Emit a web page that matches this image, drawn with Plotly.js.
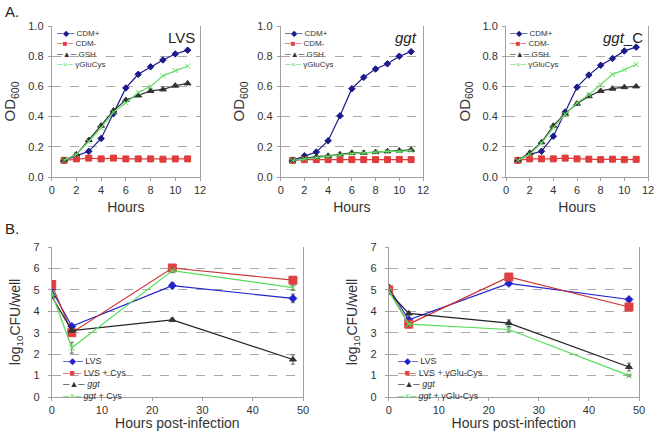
<!DOCTYPE html>
<html><head><meta charset="utf-8">
<script src="https://cdn.plot.ly/plotly-3.0.1.min.js"></script>
<style>html,body{margin:0;padding:0;background:#fff}</style>
</head><body><div id="plot" style="width:656px;height:431px"></div>
<script>
// ---- Data: panel A (growth curves) ----
const hours = [1,2,3,4,5,6,7,8,9,10,11];
const growthNames = ['CDM+','CDM-','GSH','γGluCys'];
const lvsCDMplus  = [0.11,0.14,0.17,0.255,0.42,0.59,0.68,0.73,0.775,0.815,0.84];
const lvsCDMminus = [0.11,0.12,0.125,0.12,0.125,0.12,0.12,0.12,0.118,0.12,0.12];
const lvsGSH      = [0.11,0.15,0.245,0.34,0.44,0.51,0.54,0.57,0.58,0.605,0.62];
const lvsGluCys   = [0.11,0.15,0.235,0.325,0.43,0.49,0.56,0.60,0.67,0.705,0.735];
const ggtCDMplus  = [0.11,0.14,0.165,0.24,0.405,0.585,0.66,0.715,0.75,0.80,0.83];
const ggtCDMminus = [0.11,0.115,0.115,0.115,0.115,0.115,0.115,0.115,0.115,0.117,0.115];
const ggtGSH      = [0.11,0.125,0.135,0.14,0.15,0.16,0.16,0.165,0.17,0.175,0.18];
const ggtGluCys   = [0.11,0.12,0.13,0.135,0.145,0.155,0.16,0.165,0.17,0.17,0.175];
const ggtCCDMplus  = [0.11,0.15,0.17,0.27,0.43,0.595,0.675,0.74,0.785,0.835,0.86];
const ggtCCDMminus = [0.11,0.12,0.12,0.12,0.125,0.12,0.118,0.115,0.118,0.115,0.117];
const ggtCGSH      = [0.11,0.16,0.23,0.34,0.42,0.485,0.535,0.57,0.585,0.595,0.60];
const ggtCGluCys   = [0.11,0.15,0.225,0.325,0.415,0.49,0.545,0.61,0.68,0.71,0.745];

// ---- Data: panel B (infection) ----
const hpi = [0,4,24,48];
const cysNames = ['LVS','LVS + Cys','<i>ggt</i>','<i>ggt</i> + Cys'];
const cysLVS     = [5.0,3.3,5.2,4.6];
const cysLVSerr  = [0.1,0.1,0.15,0.2];
const cysLVSCys  = [5.25,3.0,6.02,5.45];
const cysLVSCysErr = [0.12,0.1,0.08,0.12];
const cysGgt     = [4.7,3.1,3.6,1.75];
const cysGgtErr  = [0.1,0.08,0.08,0.22];
const cysGgtCys  = [4.85,2.3,5.9,5.1];
const cysGgtCysErr = [0.1,0.25,0.1,0.12];

const gcNames = ['LVS','LVS + γGlu-Cys','<i>ggt</i>','<i>ggt</i> + γGlu-Cys'];
const gcLVS     = [5.1,3.6,5.3,4.55];
const gcLVSerr  = [0.12,0.1,0.08,0.08];
const gcLVSGC   = [5.0,3.4,5.6,4.2];
const gcLVSGCerr = [0.1,0.1,0.1,0.12];
const gcGgt     = [4.9,3.9,3.45,1.4];
const gcGgtErr  = [0.1,0.08,0.15,0.18];
const gcGgtGC   = [4.95,3.4,3.15,1.0];
const gcGgtGCerr = [0.1,0.08,0.12,0.05];

// ---- Styles ----
const topColors = ['#1a1a8a','#e03c3c','#333333','#66dd66'];
const topSymbols = ['diamond','square','triangle-up','x-thin-open'];
const topSizes = [5,6,6,5];
const botLine = ['#2222cc','#cc3333','#222222','#55dd55'];
const botMark = ['#2222cc','#e04040','#333333','#66dd66'];
const botSizes = [6,8,6,6];
const glyphs = ['◆','■','▲','×'];

const traces = [];
function addGrowth(series, xa, ya){
  series.forEach((y,i)=>{
    traces.push({x:hours, y:y, xaxis:xa, yaxis:ya, name:growthNames[i],
      type:'scatter', mode:'lines+markers', showlegend:false,
      line:{color:topColors[i], width:1.2},
      marker:{symbol:topSymbols[i], size:topSizes[i], color:topColors[i], line:{color:topColors[i], width:1}}});
  });
}
addGrowth([lvsCDMplus,lvsCDMminus,lvsGSH,lvsGluCys],'x','y');
addGrowth([ggtCDMplus,ggtCDMminus,ggtGSH,ggtGluCys],'x2','y2');
addGrowth([ggtCCDMplus,ggtCCDMminus,ggtCGSH,ggtCGluCys],'x3','y3');

function addInf(series, errs, names, xa, ya){
  series.forEach((y,i)=>{
    traces.push({x:hpi, y:y, xaxis:xa, yaxis:ya, name:names[i],
      type:'scatter', mode:'lines+markers', showlegend:false,
      line:{color:botLine[i], width:1.2},
      marker:{symbol:topSymbols[i], size:botSizes[i], color:botMark[i], line:{color:botMark[i], width:1}},
      error_y:{type:'data', array:errs[i], color:'#666', thickness:1, width:2}});
  });
}
addInf([cysLVS,cysLVSCys,cysGgt,cysGgtCys],[cysLVSerr,cysLVSCysErr,cysGgtErr,cysGgtCysErr],cysNames,'x4','y4');
addInf([gcLVS,gcLVSGC,gcGgt,gcGgtGC],[gcLVSerr,gcLVSGCerr,gcGgtErr,gcGgtGCerr],gcNames,'x5','y5');

const W=656, H=431;
const fx = p=>p/W, fy = p=>1-p/H;
const font = 'Liberation Sans, Arial, sans-serif';

function xax(d0,d1,range,dtick,title,ya){
  return {domain:[fx(d0),fx(d1)], range:range, dtick:dtick, tick0:0, anchor:ya,
    showline:true, linecolor:'#a0a0a0', linewidth:1, mirror:false, showgrid:false, zeroline:false,
    ticks:'outside', ticklen:3, tickcolor:'#a0a0a0',
    tickfont:{size:11,color:'#333',family:font},
    title:{text:title, font:{size:14,color:'#333',family:font}, standoff:6}};
}
function yax(d0,d1,range,dtick,fmt,title,xa,size,standoff,tls){
  return {domain:[fy(d1),fy(d0)], range:range, dtick:dtick, tick0:0, anchor:xa, tickformat:fmt,
    showline:true, linecolor:'#a0a0a0', linewidth:1, mirror:true, zeroline:false,
    showgrid:true, gridcolor:'#a8a8a8', griddash:'dash', gridwidth:1,
    ticks:'outside', ticklen:3, tickcolor:'#a0a0a0', ticklabelstandoff:tls,
    tickfont:{size:11,color:'#333',family:font},
    title:{text:title, font:{size:size,color:'#333',family:font}, standoff:standoff}};
}

const annotations = [
  {text:'A.', x:fx(3), y:fy(12), xanchor:'left'},
  {text:'B.', x:fx(3), y:fy(228), xanchor:'left'},
  {text:'LVS', x:fx(197), y:fy(37), xanchor:'right'},
  {text:'<i>ggt</i>', x:fx(419), y:fy(37), xanchor:'right'},
  {text:'<i>ggt</i>_C', x:fx(645), y:fy(37), xanchor:'right'}
].map(a=>Object.assign({xref:'paper', yref:'paper', yanchor:'middle', showarrow:false,
  font:{size:15,color:'#222',family:font}}, a));

// Compact legends built as one multi-line text annotation each
function addLegend(names, colors, x0, yTop, size){
  const lines = names.map((n,i)=>'<span style="color:'+colors[i]+'">─'+glyphs[i]+'─</span> '+n);
  annotations.push({xref:'paper', yref:'paper', x:fx(x0), y:fy(yTop), xanchor:'left', yanchor:'top',
    align:'left', showarrow:false, borderpad:0, font:{size:size, color:'#333', family:font},
    text:lines.join('<br>')});
}
addLegend(growthNames, topColors, 55, 28, 8);
addLegend(growthNames, topColors, 283, 28, 8);
addLegend(growthNames, topColors, 508, 28, 8);
addLegend(cysNames, botMark, 61, 355, 9);
addLegend(gcNames, botMark, 396, 355, 9);

const layout = {
  width:W, height:H, margin:{l:0,r:0,t:0,b:0}, paper_bgcolor:'#fff', plot_bgcolor:'#fff',
  showlegend:false,
  xaxis: xax(51.7,200,[0,12],2,'Hours','y'),
  yaxis: yax(26,177,[0,1],0.2,'.1f','OD<sub>600</sub>','x',15,8,2),
  xaxis2: xax(280.7,423,[0,12],2,'Hours','y2'),
  yaxis2: yax(26,177,[0,1],0.2,'.1f','OD<sub>600</sub>','x2',15,8,2),
  xaxis3: xax(506,648,[0,12],2,'Hours','y3'),
  yaxis3: yax(26,177,[0,1],0.2,'.1f','OD<sub>600</sub>','x3',15,8,2),
  xaxis4: xax(51.7,303,[0,50],10,'Hours post-infection','y4'),
  yaxis4: yax(247,397,[0,7],1,'','log<sub>10</sub>CFU/well','x4',14,9,6),
  xaxis5: xax(388.7,639,[0,50],10,'Hours post-infection','y5'),
  yaxis5: yax(247,397,[0,7],1,'','log<sub>10</sub>CFU/well','x5',14,9,6),
  annotations: annotations
};
Plotly.newPlot('plot', traces, layout, {staticPlot:true, displayModeBar:false});
</script></body></html>
